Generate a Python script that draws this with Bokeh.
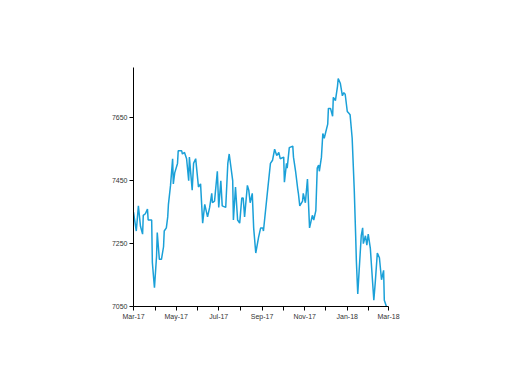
import pandas as pd
from bokeh.plotting import figure
from bokeh.models import FixedTicker, DatetimeTickFormatter, Range1d
from bokeh.embed import file_html
from bokeh.resources import INLINE

dates = [
    "2017-03-01","2017-03-04","2017-03-05","2017-03-08","2017-03-11","2017-03-14","2017-03-15",
    "2017-03-18","2017-03-21","2017-03-22","2017-03-27","2017-03-28","2017-03-30","2017-03-31",
    "2017-04-03","2017-04-04","2017-04-07","2017-04-10","2017-04-13","2017-04-14","2017-04-17",
    "2017-04-19","2017-04-20","2017-04-23","2017-04-26","2017-04-27","2017-04-29","2017-05-03",
    "2017-05-04","2017-05-09","2017-05-10","2017-05-13","2017-05-16","2017-05-19","2017-05-20",
    "2017-05-24","2017-05-26","2017-05-29","2017-06-02","2017-06-05","2017-06-08","2017-06-11",
    "2017-06-15","2017-06-18","2017-06-21","2017-06-22","2017-06-25","2017-06-29","2017-07-01",
    "2017-07-04","2017-07-06","2017-07-11","2017-07-14","2017-07-16","2017-07-21","2017-07-22",
    "2017-07-25","2017-07-28","2017-07-31","2017-08-03","2017-08-05","2017-08-07","2017-08-11",
    "2017-08-13","2017-08-15","2017-08-18","2017-08-20","2017-08-23","2017-08-27","2017-08-30",
    "2017-09-02","2017-09-03","2017-09-09","2017-09-13","2017-09-16","2017-09-19","2017-09-22",
    "2017-09-25","2017-09-27","2017-10-02","2017-10-03","2017-10-06","2017-10-07","2017-10-10",
    "2017-10-15","2017-10-16","2017-10-19","2017-10-22","2017-10-23","2017-10-25","2017-10-29",
    "2017-10-30","2017-11-02","2017-11-05","2017-11-08","2017-11-12","2017-11-14","2017-11-17",
    "2017-11-19","2017-11-21","2017-11-22","2017-11-25","2017-11-27","2017-11-29","2017-12-04",
    "2017-12-05","2017-12-08","2017-12-11","2017-12-12","2017-12-15","2017-12-18","2017-12-19",
    "2017-12-22","2017-12-25","2017-12-27","2017-12-29","2018-01-01","2018-01-03","2018-01-05",
    "2018-01-08","2018-01-11","2018-01-13","2018-01-14","2018-01-16","2018-01-18","2018-01-21",
    "2018-01-23","2018-01-24","2018-01-27","2018-01-29","2018-01-31","2018-02-03","2018-02-06",
    "2018-02-08","2018-02-10","2018-02-13","2018-02-16","2018-02-19","2018-02-22","2018-02-23",
    "2018-02-26",
]
values = [
    7350, 7305, 7290, 7370, 7305, 7280, 7340,
    7345, 7360, 7325, 7325, 7190, 7135, 7110,
    7210, 7285, 7200, 7200, 7240, 7290, 7300,
    7335, 7375, 7435, 7520, 7440, 7475, 7505,
    7545, 7545, 7535, 7540, 7520, 7450, 7525,
    7420, 7505, 7520, 7430, 7440, 7315, 7375,
    7335, 7365, 7410, 7380, 7385, 7480, 7365,
    7450, 7370, 7365, 7505, 7535, 7450, 7325,
    7430, 7325, 7315, 7395, 7395, 7335, 7435,
    7420, 7380, 7410, 7300, 7220, 7270, 7300,
    7300, 7290, 7420, 7505, 7515, 7550, 7530,
    7540, 7520, 7525, 7445, 7505, 7490, 7555,
    7560, 7525, 7480, 7425, 7410, 7370, 7385,
    7410, 7380, 7455, 7300, 7340, 7325, 7355,
    7490, 7500, 7480, 7525, 7600, 7585, 7630,
    7680, 7680, 7655, 7715, 7705, 7750, 7775,
    7760, 7720, 7730, 7725, 7670, 7665, 7660,
    7585, 7420, 7275, 7195, 7090, 7165, 7275,
    7300, 7250, 7275, 7245, 7280, 7235, 7135,
    7070, 7125, 7220, 7205, 7135, 7165, 7070,
    7050,
]
y_ticks = [7050, 7250, 7450, 7650]
x_label_months = ["2017-03-01", "2017-05-01", "2017-07-01", "2017-09-01",
                  "2017-11-01", "2018-01-01", "2018-03-01"]
x_minor_months = ["2017-04-01", "2017-06-01", "2017-08-01", "2017-10-01",
                  "2017-12-01", "2018-02-01"]

x = pd.to_datetime(dates)

def ms(s):
    return pd.Timestamp(s).value / 1e6

p = figure(width=496, height=368, x_axis_type="datetime",
           output_backend="svg", toolbar_location=None,
           min_border_left=133, min_border_right=108,
           min_border_top=67, min_border_bottom=62)
p.x_range = Range1d(ms("2017-03-01"), ms("2018-03-01"))
p.y_range = Range1d(7050, 7810)

p.line(x, values, line_color="#1aa0d8", line_width=1.5)

p.grid.visible = False
p.outline_line_color = None
p.background_fill_color = "white"
p.border_fill_color = "white"

p.xaxis.ticker = FixedTicker(ticks=[ms(s) for s in x_label_months],
                             minor_ticks=[ms(s) for s in x_minor_months])
p.xaxis.formatter = DatetimeTickFormatter(days="%b-%y", months="%b-%y", years="%b-%y")
p.yaxis.ticker = FixedTicker(ticks=y_ticks)

for ax in (p.xaxis, p.yaxis):
    ax.axis_line_color = "#000000"
    ax.axis_line_width = 1
    ax.major_tick_line_color = "#000000"
    ax.minor_tick_line_color = "#000000"
    ax.major_tick_in = 0
    ax.major_tick_out = 4
    ax.minor_tick_in = 0
    ax.minor_tick_out = 4
    ax.major_label_text_font = "Liberation Sans"
    ax.major_label_text_font_size = "7px"
    ax.major_label_text_color = "#333333"
    ax.major_label_standoff = 2
p.yaxis.minor_tick_line_color = None

open("out.html", "w").write(file_html(p, INLINE))
